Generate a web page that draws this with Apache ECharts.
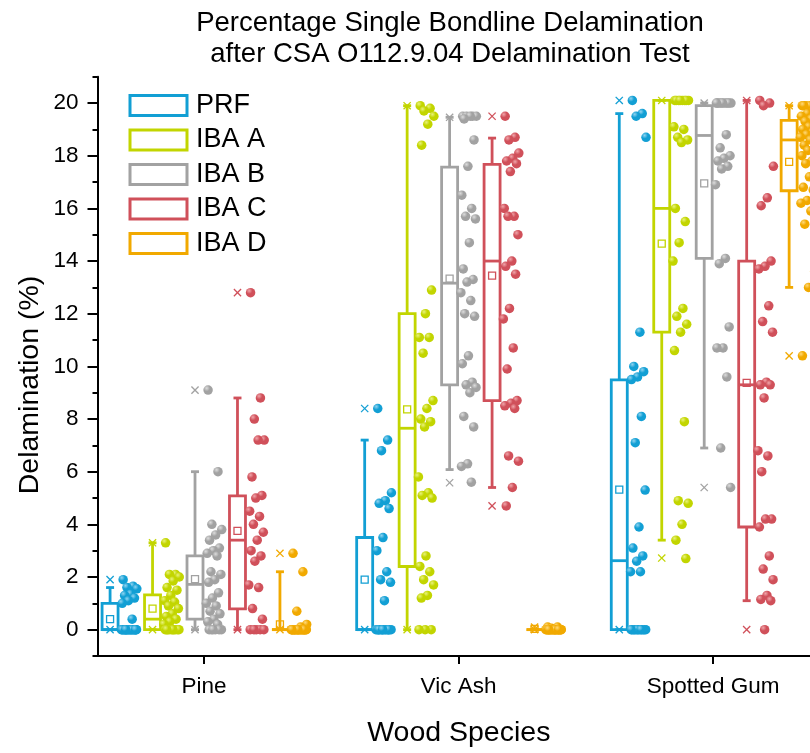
<!DOCTYPE html>
<html><head><meta charset="utf-8">
<script src="https://cdn.jsdelivr.net/npm/echarts@6/dist/echarts.min.js"></script>
<style>html,body{margin:0;padding:0;overflow:hidden;background:#fff}#c{width:840px;height:753px}</style>
</head><body><div id="c"></div>
<script>
// ---------- data ----------
const categories = ['Pine', 'Vic Ash', 'Spotted Gum'];
const groups = ['PRF', 'IBA A', 'IBA B', 'IBA C', 'IBA D'];
const yTickLabels = [0, 2, 4, 6, 8, 10, 12, 14, 16, 18, 20];
const yMinorTicks = [-1, 1, 3, 5, 7, 9, 11, 13, 15, 17, 19, 21];

// box stats per category: [lower whisker, Q1, median, Q3, upper whisker]
const boxPRF = [[0, 0, 0, 1.0, 1.6], [0, 0, 0, 3.5, 7.2], [0, 0, 2.62, 9.49, 19.6]];
const boxA   = [[0, 0, 0.4, 1.32, 3.3], [0, 2.4, 7.65, 12.0, 19.9], [3.4, 11.3, 16.0, 20.1, 20.1]];
const boxB   = [[0, 0.4, 1.72, 2.8, 6.0], [6.08, 9.3, 13.16, 17.57, 19.46], [6.9, 14.1, 18.77, 19.9, 20.0]];
const boxC   = [[0, 0.79, 3.4, 5.08, 8.8], [5.4, 8.7, 14.0, 17.67, 18.67], [1.1, 3.9, 9.3, 14.0, 20.1]];
const boxD   = [[0, 0, 0, 0, 2.2], [0, 0, 0, 0, 0], [13.0, 16.67, 18.6, 19.34, 19.9]];

const meanPRF = [0.4, 1.9, 5.32];
const meanA   = [0.8, 8.37, 14.66];
const meanB   = [1.92, 13.33, 16.95];
const meanC   = [3.75, 13.45, 9.37];
const meanD   = [0.2, 0.03, 17.77];

const minPRF = [0, 0, 0],    maxPRF = [1.9, 8.4, 20.1];
const minA   = [0, 0, 2.72], maxA   = [3.3, 19.9, 20.1];
const minB   = [0, 5.58, 5.4], maxB = [9.1, 19.46, 20.0];
const minC   = [0, 4.7, 0],  maxC   = [12.8, 19.5, 20.1];
const minD   = [0, 0, 10.4], maxD   = [2.9, 0.1, 19.9];

// individual points per category
const ptsPRF = [
  [1.9, 1.65, 1.6, 1.55, 1.35, 1.3, 1.2, 1.1, 1.0, 0.4, 0, 0, 0, 0, 0, 0, 0, 0, 0, 0, 0, 0, 0, 0, 0, 0, 0, 0, 0, 0, 0, 0, 0],
  [8.4, 7.2, 6.8, 5.2, 4.9, 4.8, 4.6, 3.5, 3.0, 2.2, 1.9, 1.8, 1.1, 0, 0, 0, 0, 0, 0, 0, 0, 0, 0, 0, 0, 0, 0, 0, 0],
  [20.1, 19.6, 19.5, 18.7, 11.3, 10.0, 9.8, 9.6, 9.5, 8.1, 7.1, 5.3, 3.9, 3.1, 2.8, 2.6, 2.2, 2.2, 0, 0, 0, 0, 0, 0, 0, 0, 0, 0, 0, 0, 0]
];
const ptsA = [
  [3.3, 2.1, 2.1, 2.0, 1.85, 1.6, 1.5, 1.3, 1.1, 1.05, 0.9, 0.8, 0.6, 0.5, 0.4, 0.3, 0.2, 0, 0, 0, 0, 0, 0, 0, 0, 0, 0],
  [19.9, 19.8, 19.7, 19.5, 19.2, 18.4, 12.9, 12.0, 11.1, 11.1, 10.5, 8.7, 8.4, 8.0, 7.9, 7.7, 5.8, 5.2, 5.1, 5.0, 2.8, 2.4, 2.2, 1.9, 1.7, 1.3, 1.2, 0, 0, 0],
  [20.1, 20.1, 20.1, 20.1, 20.1, 20.1, 20.1, 20.1, 19.1, 19.0, 18.7, 18.6, 18.5, 16.0, 15.5, 14.7, 14.0, 12.2, 11.9, 11.6, 11.3, 10.6, 7.9, 4.9, 4.8, 4.0, 3.4, 2.7]
];
const ptsB = [
  [9.1, 6.0, 4.0, 3.8, 3.6, 3.4, 3.1, 3.0, 2.9, 2.8, 2.2, 2.1, 1.9, 1.8, 1.4, 1.2, 1.0, 0.9, 0.7, 0.6, 0.4, 0.3, 0.2, 0, 0, 0, 0, 0, 0],
  [19.5, 19.5, 19.5, 19.5, 19.5, 19.4, 18.6, 17.6, 16.5, 16.0, 15.7, 15.6, 14.7, 13.7, 13.3, 13.2, 12.8, 12.5, 12.0, 11.9, 10.4, 10.1, 9.4, 9.3, 9.2, 9.0, 8.1, 7.7, 6.3, 6.2, 5.6],
  [20.0, 20.0, 20.0, 20.0, 20.0, 20.0, 20.0, 20.0, 20.0, 18.8, 18.3, 18.0, 17.9, 17.8, 17.6, 17.5, 16.9, 14.1, 13.9, 11.5, 10.7, 10.7, 9.6, 6.9, 5.4]
];
const ptsC = [
  [12.8, 8.8, 8.0, 7.2, 7.2, 5.8, 5.1, 5.0, 4.5, 4.3, 4.0, 3.7, 3.4, 3.0, 2.8, 2.6, 1.7, 1.6, 0.8, 0.4, 0, 0, 0, 0, 0],
  [19.5, 18.7, 18.6, 18.1, 17.9, 17.8, 17.7, 17.4, 16.0, 15.7, 15.7, 15.0, 14.0, 13.8, 13.5, 12.2, 11.8, 10.7, 9.9, 8.7, 8.6, 8.5, 8.4, 6.6, 6.4, 5.4, 4.7],
  [20.1, 20.0, 19.9, 17.6, 16.4, 16.1, 14.0, 13.8, 13.7, 12.3, 11.7, 11.3, 9.4, 9.3, 9.3, 8.8, 6.8, 6.6, 6.0, 4.2, 4.2, 3.9, 2.8, 2.3, 1.9, 1.3, 1.15, 1.1, 0]
];
const ptsD = [
  [2.9, 2.2, 0.7, 0.2, 0.1, 0, 0, 0, 0, 0, 0, 0, 0, 0, 0, 0, 0, 0, 0, 0, 0, 0, 0, 0, 0, 0, 0, 0, 0, 0],
  [0.1, 0.1, 0.05, 0, 0, 0, 0, 0, 0, 0, 0, 0, 0, 0, 0, 0, 0, 0, 0, 0, 0, 0, 0, 0, 0, 0, 0, 0],
  [19.9, 19.9, 19.9, 19.9, 19.9, 19.9, 19.7, 19.6, 19.5, 19.4, 19.3, 19.2, 19.1, 19.0, 18.9, 18.8, 18.7, 18.6, 18.4, 18.3, 18.2, 18.0, 17.8, 17.7, 17.5, 17.2, 16.8, 16.7, 16.3, 16.2, 15.9, 15.4, 13.6, 13.0, 10.4]
];

// ---------- styling / layout ----------
const colors = ['#129fd4', '#c2d500', '#a2a2a2', '#d0505a', '#f1a900'];
const lighter = ['#8fd3f0', '#e8f27a', '#dcdcdc', '#f0a5aa', '#ffd97a'];
const FONT = 'Liberation Sans, Arial, sans-serif';
const gridLeft = 97.5, gridTop = 76.75, gridHeight = 588.5;
const xMin = 0.582, xMax = 3.42;
const pxPerUnit = 254.6;
const gridWidth = (xMax - xMin) * pxPerUnit;
const groupOffset = g => -0.035 + (g - 2) * 0.1668;
const boxHalf = 8 / pxPerUnit;

const allBox = [boxPRF, boxA, boxB, boxC, boxD];
const allMean = [meanPRF, meanA, meanB, meanC, meanD];
const allMin = [minPRF, minA, minB, minC, minD];
const allMax = [maxPRF, maxA, maxB, maxC, maxD];
const allPts = [ptsPRF, ptsA, ptsB, ptsC, ptsD];

function makeRender(color) {
  return function (params, api) {
    const x = api.value(0);
    const wl = api.value(1), q1 = api.value(2), md = api.value(3), q3 = api.value(4), wh = api.value(5);
    const mean = api.value(6), mn = api.value(7), mx = api.value(8);
    const L = api.coord([x - boxHalf, q3]);
    const R = api.coord([x + boxHalf, q1]);
    const C = api.coord([x, md]);
    const cx = C[0];
    const yMed = C[1];
    const yWl = api.coord([x, wl])[1], yWh = api.coord([x, wh])[1];
    const yMean = api.coord([x, mean])[1];
    const yMn = api.coord([x, mn])[1], yMx = api.coord([x, mx])[1];
    const lw = 2.8, cap = 4, xs = 3.6;
    const st = { stroke: color, lineWidth: lw, fill: null };
    const thin = { stroke: color, lineWidth: 1.3, fill: null };
    const ch = [];
    ch.push({ type: 'line', shape: { x1: cx, y1: L[1], x2: cx, y2: yWh }, style: st });
    ch.push({ type: 'line', shape: { x1: cx - cap, y1: yWh, x2: cx + cap, y2: yWh }, style: st });
    ch.push({ type: 'line', shape: { x1: cx, y1: R[1], x2: cx, y2: yWl }, style: st });
    ch.push({ type: 'line', shape: { x1: cx - cap, y1: yWl, x2: cx + cap, y2: yWl }, style: st });
    ch.push({ type: 'rect', shape: { x: L[0], y: L[1], width: R[0] - L[0], height: R[1] - L[1] }, style: st });
    ch.push({ type: 'line', shape: { x1: L[0], y1: yMed, x2: R[0], y2: yMed }, style: st });
    ch.push({ type: 'rect', shape: { x: cx - 3.5, y: yMean - 3.5, width: 7, height: 7 }, style: thin });
    [yMn, yMx].forEach(yy => {
      ch.push({ type: 'line', shape: { x1: cx - xs, y1: yy - xs, x2: cx + xs, y2: yy + xs }, style: thin });
      ch.push({ type: 'line', shape: { x1: cx - xs, y1: yy + xs, x2: cx + xs, y2: yy - xs }, style: thin });
    });
    return { type: 'group', children: ch };
  };
}

const series = [];
groups.forEach((name, g) => {
  const data = categories.map((c, i) => {
    const b = allBox[g][i];
    return [i + 1 + groupOffset(g), b[0], b[1], b[2], b[3], b[4], allMean[g][i], allMin[g][i], allMax[g][i]];
  });
  series.push({
    type: 'custom', name: name, renderItem: makeRender(colors[g]), data: data,
    encode: { x: 0, y: [1, 2, 3, 4, 5] }, z: 2, clip: false, silent: true
  });
});
groups.forEach((name, g) => {
  const data = [];
  categories.forEach((c, i) => {
    allPts[g][i].forEach((v, k) => {
      const frac = (k * 0.6180339887 + 0.13) % 1;
      const dx = (11 + 16 * frac) / pxPerUnit;
      data.push([i + 1 + groupOffset(g) + dx, v]);
    });
  });
  series.push({
    type: 'scatter', name: name, data: data, symbol: 'circle', symbolSize: 9.5, z: 3, clip: false, silent: true,
    itemStyle: {
      color: { type: 'radial', x: 0.35, y: 0.3, r: 0.75,
        colorStops: [{ offset: 0, color: lighter[g] }, { offset: 0.45, color: colors[g] }, { offset: 1, color: colors[g] }] },
      opacity: 1
    }
  });
});

const chart = echarts.init(document.getElementById('c'), null, { renderer: 'canvas' });
chart.setOption({
  animation: false,
  backgroundColor: '#fff',
  textStyle: { fontFamily: FONT },
  title: {
    text: 'Percentage Single Bondline Delamination\nafter CSA O112.9.04 Delamination Test',
    left: 445, top: 3, textAlign: 'center',
    textStyle: { fontFamily: FONT, fontSize: 27.5, fontWeight: 'normal', color: '#000', lineHeight: 31 }
  },
  legend: {
    orient: 'vertical', left: 123.5, top: 87, itemWidth: 57, itemHeight: 20, itemGap: 7.5,
    icon: 'rect', selectedMode: false,
    textStyle: { fontFamily: FONT, fontSize: 27, lineHeight: 22, color: '#000', padding: [0, 0, 0, 4] },
    data: groups.map((n, g) => ({ name: n, icon: 'rect',
      itemStyle: { color: '#fff', borderColor: colors[g], borderWidth: 3 } }))
  },
  graphic: [{
    type: 'text', x: 30, y: 385, rotation: Math.PI / 2,
    style: { text: 'Delamination (%)', fontFamily: FONT, fontSize: 28.5, fill: '#000', align: 'center', verticalAlign: 'middle' }
  }],
  grid: { left: gridLeft, top: gridTop, width: gridWidth, height: gridHeight },
  xAxis: {
    type: 'value', min: xMin, max: xMax,
    name: 'Wood Species', nameLocation: 'middle', nameGap: 63,
    nameTextStyle: { fontFamily: FONT, fontSize: 28.5, color: '#000' },
    axisLine: { show: true, onZero: false, lineStyle: { color: '#000', width: 2 } },
    axisTick: { show: true, customValues: [1, 2, 3], length: 8, lineStyle: { color: '#000', width: 2 } },
    axisLabel: { show: true, customValues: [1, 2, 3], margin: 19, fontFamily: FONT, fontSize: 22.5, color: '#000',
      formatter: v => categories[Math.round(v) - 1] || '' },
    splitLine: { show: false }
  },
  yAxis: [{
    type: 'value', min: -1, max: 21,
    axisLine: { show: true, onZero: false, lineStyle: { color: '#000', width: 2 } },
    axisTick: { show: true, customValues: yTickLabels, length: 10, lineStyle: { color: '#000', width: 2 } },
    axisLabel: { show: true, customValues: yTickLabels, margin: 19, fontFamily: FONT, fontSize: 22.5, color: '#000' },
    splitLine: { show: false }
  }, {
    type: 'value', min: -1, max: 21, position: 'left',
    axisLine: { show: false },
    axisTick: { show: true, customValues: yMinorTicks, length: 5, lineStyle: { color: '#000', width: 2 } },
    axisLabel: { show: false },
    splitLine: { show: false }
  }],
  series: series
});
</script>
</body></html>
